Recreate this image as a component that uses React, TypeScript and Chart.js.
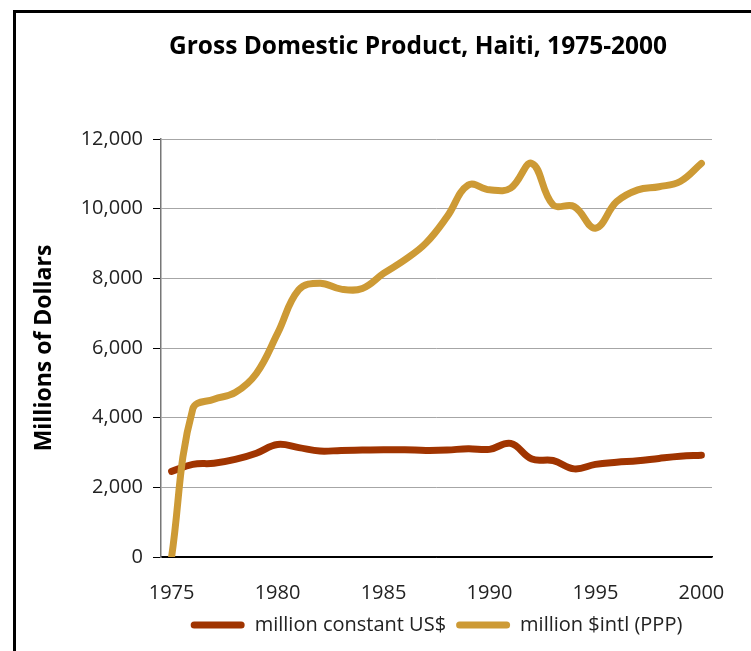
import React, { useEffect, useRef } from 'react';
import { Chart, registerables } from 'chart.js';

Chart.register(...registerables);

const years = [
  '1975', '1976', '1977', '1978', '1979', '1980', '1981', '1982', '1983', '1984',
  '1985', '1986', '1987', '1988', '1989', '1990', '1991', '1992', '1993', '1994',
  '1995', '1996', '1997', '1998', '1999', '2000',
];

const constantUSD = [
  2460, 2660, 2690, 2800, 2980, 3230, 3140, 3040, 3060, 3070,
  3080, 3080, 3060, 3070, 3110, 3090, 3260, 2810, 2770, 2530,
  2660, 2720, 2760, 2830, 2890, 2920,
];

const intlPPP = [
  0, 4250, 4530, 4720, 5270, 6420, 7670, 7860, 7690, 7710,
  8140, 8530, 9010, 9770, 10680, 10540, 10590, 11300, 10110, 10060,
  9440, 10200, 10540, 10630, 10780, 11300,
];

const seriesLabels = ['million constant US$', 'million $intl (PPP)'];
const seriesColors = ['#a03400', '#cd9a35'];
const yTicks = [0, 2000, 4000, 6000, 8000, 10000, 12000];

const FONT = "'Open Sans', 'Noto Sans', sans-serif";

export default function App() {
  const ref = useRef<HTMLCanvasElement | null>(null);

  useEffect(() => {
    document.body.style.overflow = 'hidden';
    const canvas = ref.current;
    if (!canvas) return;
    const chart = new Chart(canvas, {
      type: 'line',
      data: {
        labels: years,
        datasets: [
          {
            label: seriesLabels[0],
            data: constantUSD,
            borderColor: seriesColors[0],
            backgroundColor: seriesColors[0],
            borderWidth: 7,
            pointRadius: 0,
            tension: 0.4,
            fill: false,
            borderCapStyle: 'round',
            borderJoinStyle: 'round',
            order: 1,
          },
          {
            label: seriesLabels[1],
            data: intlPPP,
            borderColor: seriesColors[1],
            backgroundColor: seriesColors[1],
            borderWidth: 7,
            pointRadius: 0,
            tension: 0.4,
            fill: false,
            borderCapStyle: 'round',
            borderJoinStyle: 'round',
            order: 0,
          },
        ],
      },
      options: {
        responsive: false,
        animation: false,
        devicePixelRatio: 1,
        layout: { padding: { left: 0, right: 0, top: 0, bottom: 6 } },
        plugins: {
          tooltip: { enabled: false },
          title: {
            display: true,
            text: 'Gross Domestic Product, Haiti, 1975-2000',
            color: '#000',
            font: { family: FONT, size: 24.5, weight: 'bold', lineHeight: 1.2 },
            padding: { top: 19, bottom: 77.6 },
          },
          legend: {
            display: true,
            position: 'bottom',
            fullSize: false,
            labels: {
              color: '#222',
              font: { family: FONT, size: 20 },
              boxWidth: 54,
              boxHeight: 7,
              padding: 10,
              useBorderRadius: true,
              borderRadius: 3.5,
              generateLabels: (c: any) =>
                c.data.datasets.map((ds: any, i: number) => ({
                  text: ds.label,
                  fillStyle: ds.borderColor,
                  strokeStyle: ds.borderColor,
                  lineWidth: 0,
                  hidden: false,
                  datasetIndex: i,
                  borderRadius: 3.5,
                  fontColor: '#222',
                })),
            },
          },
        },
        scales: {
          x: {
            type: 'category',
            offset: true,
            grid: { display: false, drawTicks: false },
            border: { display: true, color: '#000', width: 1.5 },
            afterFit: (s: any) => {
              s.height = 48;
            },
            ticks: {
              autoSkip: false,
              maxRotation: 0,
              minRotation: 0,
              color: '#222',
              padding: 24,
              font: { family: FONT, size: 20 },
              callback: function (this: any, value: any) {
                const lab = this.getLabelForValue(value);
                return Number(lab) % 5 === 0 ? lab : '';
              },
            },
          },
          y: {
            min: 0,
            max: 12000,
            afterBuildTicks: (s: any) => {
              s.ticks = yTicks.map((v) => ({ value: v }));
            },
            afterFit: (s: any) => {
              s.width = 145;
            },
            title: {
              display: true,
              text: 'Millions of Dollars',
              color: '#000',
              font: { family: FONT, size: 23, weight: 'bold', lineHeight: 1.2 },
              padding: { top: 15, bottom: 0 },
            },
            grid: {
              color: (ctx: any) => (ctx.tick && ctx.tick.value === 0 ? '#000' : '#a6a6a6'),
              tickColor: '#000',
              tickLength: 8,
              lineWidth: 1,
            },
            border: { display: true, color: '#777', width: 1.5 },
            ticks: {
              color: '#222',
              padding: 10,
              font: { family: FONT, size: 20 },
              callback: (v: any) => Number(v).toLocaleString('en-US'),
            },
          },
          rightSpace: {
            type: 'linear',
            position: 'right',
            display: true,
            grid: { display: false, drawTicks: false },
            border: { display: false },
            ticks: { display: false },
            afterFit: (s: any) => {
              s.width = 108;
            },
          },
        },
      },
    });
    return () => chart.destroy();
  }, []);

  return (
    <div
      style={{
        position: 'absolute',
        left: 13,
        top: 10,
        width: 738,
        height: 641,
        borderTop: '3px solid #000',
        borderLeft: '3px solid #000',
        boxSizing: 'border-box',
        overflow: 'hidden',
        background: '#fff',
      }}
    >
      <canvas ref={ref} width={804} height={638} style={{ display: 'block', width: 804, height: 638 }} />
    </div>
  );
}
